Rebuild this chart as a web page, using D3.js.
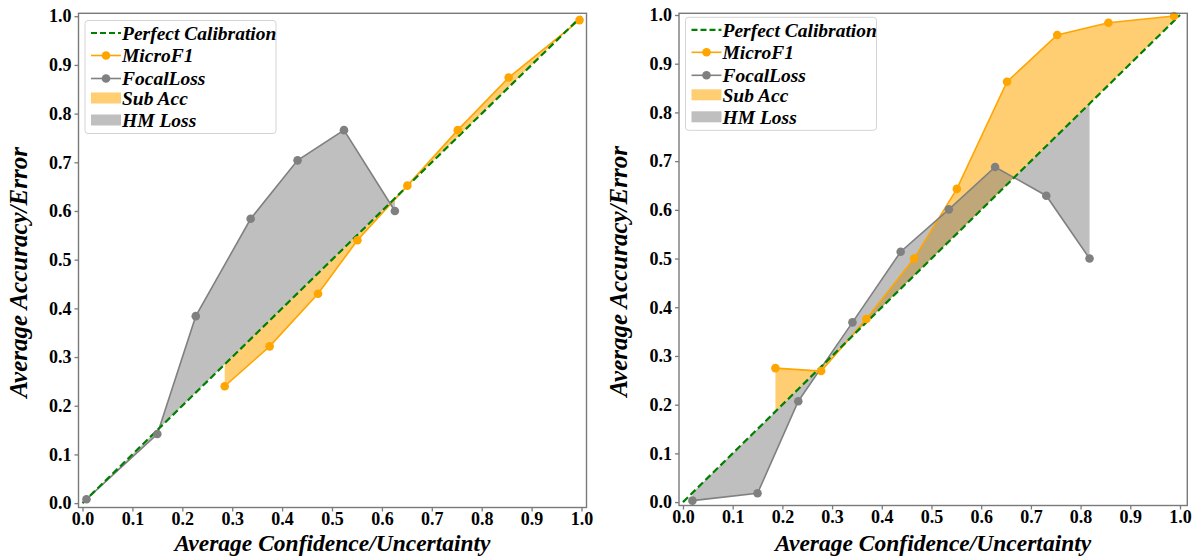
<!DOCTYPE html>
<html>
<head>
<meta charset="utf-8">
<script src="https://cdn.jsdelivr.net/npm/d3@7"></script>
<style>
  html, body { margin: 0; padding: 0; background: #fff; }
  svg { display: block; }
  text { font-family: "Liberation Serif", "Times New Roman", serif; }
</style>
</head>
<body>
<svg id="chart" width="1198" height="556"></svg>
<script>
// Reliability curves: average accuracy/error against average confidence/uncertainty
const tickValues = [0, 0.1, 0.2, 0.3, 0.4, 0.5, 0.6, 0.7, 0.8, 0.9, 1.0];
const tickLabels = ["0.0", "0.1", "0.2", "0.3", "0.4", "0.5", "0.6", "0.7", "0.8", "0.9", "1.0"];

const legendLabels = ["Perfect Calibration", "MicroF1", "FocalLoss", "Sub Acc", "HM Loss"];

// Left panel
const leftMicroF1Conf = [0.285, 0.375, 0.472, 0.551, 0.651, 0.752, 0.854, 0.996];
const leftMicroF1Acc  = [0.240, 0.322, 0.430, 0.540, 0.652, 0.766, 0.874, 0.992];
const leftFocalConf   = [0.008, 0.150, 0.227, 0.337, 0.431, 0.524, 0.626];
const leftFocalAcc    = [0.008, 0.142, 0.384, 0.584, 0.704, 0.766, 0.600];

// Right panel
const rightMicroF1Conf = [0.186, 0.278, 0.369, 0.465, 0.551, 0.652, 0.753, 0.856, 0.988];
const rightMicroF1Acc  = [0.275, 0.269, 0.376, 0.500, 0.643, 0.863, 0.959, 0.984, 0.998];
const rightFocalConf   = [0.019, 0.150, 0.232, 0.341, 0.438, 0.535, 0.628, 0.731, 0.818];
const rightFocalAcc    = [0.003, 0.018, 0.207, 0.369, 0.514, 0.601, 0.688, 0.629, 0.500];

const COLORS = {
  diag: "#008000",
  micro: "#FFA500",
  focal: "#808080",
  microFill: "rgba(255,165,0,0.55)",
  focalFill: "rgba(128,128,128,0.5)",
  spine: "#7a7a7a"
};

const X_TITLE_BASELINE = 550.5;

const svg = d3.select("#chart");

function zip(xs, ys) { return xs.map((x, i) => ({ x, y: ys[i] })); }

function drawPanel(cfg) {
  const x = d3.scaleLinear().domain(cfg.xlim).range([cfg.left, cfg.right]);
  const y = d3.scaleLinear().domain(cfg.ylim).range([cfg.bottom, cfg.top]);
  const g = svg.append("g");

  const micro = zip(cfg.microConf, cfg.microAcc);
  const focal = zip(cfg.focalConf, cfg.focalAcc);

  // shaded gaps between each curve and the diagonal
  const gap = d3.area().x(d => x(d.x)).y0(d => y(d.x)).y1(d => y(d.y));
  g.append("path").datum(micro).attr("d", gap).attr("fill", COLORS.microFill);
  g.append("path").datum(focal).attr("d", gap).attr("fill", COLORS.focalFill);

  const line = d3.line().x(d => x(d.x)).y(d => y(d.y));
  g.append("path").datum(micro).attr("d", line)
    .attr("fill", "none").attr("stroke", COLORS.micro).attr("stroke-width", 1.6);
  g.append("path").datum(focal).attr("d", line)
    .attr("fill", "none").attr("stroke", COLORS.focal).attr("stroke-width", 1.6);

  // perfect calibration diagonal
  g.append("path").datum([{ x: 0, y: 0 }, { x: 1, y: 1 }]).attr("d", line)
    .attr("fill", "none").attr("stroke", COLORS.diag).attr("stroke-width", 2.2)
    .attr("stroke-dasharray", "7,3.5");

  g.selectAll(".m-micro").data(micro).join("circle")
    .attr("cx", d => x(d.x)).attr("cy", d => y(d.y)).attr("r", 4.3)
    .attr("fill", COLORS.micro);
  g.selectAll(".m-focal").data(focal).join("circle")
    .attr("cx", d => x(d.x)).attr("cy", d => y(d.y)).attr("r", 4.3)
    .attr("fill", COLORS.focal);

  // frame
  g.append("rect")
    .attr("x", cfg.left).attr("y", cfg.top)
    .attr("width", cfg.right - cfg.left).attr("height", cfg.bottom - cfg.top)
    .attr("fill", "none").attr("stroke", COLORS.spine).attr("stroke-width", 1.4);

  // axes
  const fmt = (d, i) => tickLabels[i];
  const xAxis = d3.axisBottom(x).tickValues(tickValues).tickFormat(fmt).tickSize(4).tickPadding(1);
  const yAxis = d3.axisLeft(y).tickValues(tickValues).tickFormat(fmt).tickSize(4).tickPadding(3);

  const gx = g.append("g").attr("transform", `translate(0,${cfg.bottom})`).call(xAxis);
  const gy = g.append("g").attr("transform", `translate(${cfg.left},0)`).call(yAxis);
  [gx, gy].forEach(ax => {
    ax.select(".domain").remove();
    ax.selectAll(".tick line").attr("stroke", COLORS.spine).attr("stroke-width", 1.3);
    ax.selectAll(".tick text")
      .attr("font-family", "'Liberation Serif', serif")
      .attr("font-weight", "bold").attr("font-size", 18).attr("fill", "#000");
  });

  // axis titles
  g.append("text")
    .attr("x", (cfg.left + cfg.right) / 2).attr("y", X_TITLE_BASELINE)
    .attr("text-anchor", "middle")
    .attr("font-weight", "bold").attr("font-style", "italic").attr("font-size", 23.5)
    .text("Average Confidence/Uncertainty");
  g.append("text")
    .attr("transform", `translate(${cfg.left - 52},${(cfg.top + cfg.bottom) / 2 + 12}) rotate(-90)`)
    .attr("text-anchor", "middle")
    .attr("font-weight", "bold").attr("font-style", "italic").attr("font-size", 25)
    .text("Average Accuracy/Error");

  // legend
  const lg = g.append("g").attr("transform", `translate(${cfg.left + 6.5},${cfg.legendTop})`);
  lg.append("rect").attr("x", 0).attr("y", 0).attr("width", 191).attr("height", 113)
    .attr("rx", 3).attr("fill", "rgba(255,255,255,0.85)")
    .attr("stroke", "#d4d4d4").attr("stroke-width", 1);
  const rows = [12.5, 35, 58, 77.5, 99.5];
  const hx0 = 6, hx1 = 36, tx = 37;
  // dashed line handle
  lg.append("line").attr("x1", hx0).attr("x2", hx1).attr("y1", rows[0]).attr("y2", rows[0])
    .attr("stroke", COLORS.diag).attr("stroke-width", 2.2).attr("stroke-dasharray", "6,3");
  // marker line handles
  [[rows[1], COLORS.micro], [rows[2], COLORS.focal]].forEach(([ry, c]) => {
    lg.append("line").attr("x1", hx0).attr("x2", hx1).attr("y1", ry).attr("y2", ry)
      .attr("stroke", c).attr("stroke-width", 1.6);
    lg.append("circle").attr("cx", (hx0 + hx1) / 2).attr("cy", ry).attr("r", 4.3).attr("fill", c);
  });
  // patch handles
  [[rows[3], COLORS.microFill], [rows[4], COLORS.focalFill]].forEach(([ry, c]) => {
    lg.append("rect").attr("x", hx0).attr("y", ry - 5.5).attr("width", hx1 - hx0).attr("height", 11)
      .attr("fill", c);
  });
  lg.selectAll(".lbl").data(legendLabels).join("text")
    .attr("x", tx).attr("y", (d, i) => rows[i]).attr("dy", "0.35em")
    .attr("font-weight", "bold").attr("font-style", "italic").attr("font-size", 19.5)
    .text(d => d);
}

drawPanel({
  left: 78.5, right: 586.5, top: 13.3, bottom: 507.5,
  xlim: [-0.008, 1.010], ylim: [-0.009, 1.006],
  legendTop: 20.5,
  microConf: leftMicroF1Conf, microAcc: leftMicroF1Acc,
  focalConf: leftFocalConf, focalAcc: leftFocalAcc
});

drawPanel({
  left: 679, right: 1187.3, top: 13.3, bottom: 505.5,
  xlim: [-0.008, 1.0147], ylim: [-0.007, 1.0035],
  legendTop: 17.3,
  microConf: rightMicroF1Conf, microAcc: rightMicroF1Acc,
  focalConf: rightFocalConf, focalAcc: rightFocalAcc
});
</script>
</body>
</html>
